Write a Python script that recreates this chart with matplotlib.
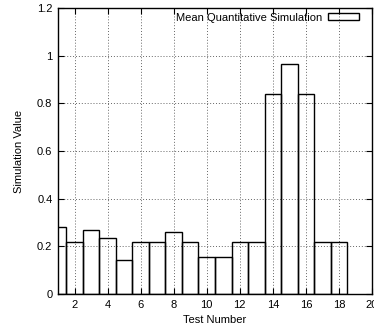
import matplotlib
matplotlib.use("Agg")
import matplotlib.pyplot as plt
import numpy as np

plt.rcParams['font.family'] = ['Liberation Sans', 'DejaVu Sans']

tests = list(range(1, 19))
values = [0.28, 0.218, 0.27, 0.236, 0.142, 0.218, 0.218, 0.261, 0.218,
          0.154, 0.154, 0.218, 0.218, 0.84, 0.967, 0.84, 0.218, 0.218]
xticks = [2, 4, 6, 8, 10, 12, 14, 16, 18, 20]
yticks = [0, 0.2, 0.4, 0.6, 0.8, 1.0, 1.2]
ytick_labels = ['0', '0.2', '0.4', '0.6', '0.8', '1', '1.2']

fig = plt.figure(figsize=(3.74, 3.32), dpi=100)
ax = fig.add_axes([58/374, 1 - 294/332, (372 - 58)/374, (294 - 8)/332])

ax.bar(tests, values, width=1.0, facecolor='none', edgecolor='black',
       linewidth=1.0, label='Mean Quantitative Simulation', zorder=3)

ax.set_xlim(1, 20)
ax.set_ylim(0, 1.2)
ax.set_xticks(xticks)
ax.set_yticks(yticks)
ax.set_yticklabels(ytick_labels)
ax.grid(True, linestyle=(0, (1, 2)), color='#666666', linewidth=0.7, zorder=0)
ax.tick_params(direction='in', top=True, right=True, labelsize=8, length=4,
               width=0.8, pad=4)
for s in ax.spines.values():
    s.set_linewidth(1.0)
ax.set_xlabel('Test Number', fontsize=8, labelpad=4)
ax.set_ylabel('Simulation Value', fontsize=8, labelpad=9)

leg = ax.legend(loc='upper right', fontsize=8, frameon=False, markerfirst=False,
                handlelength=2.8, handleheight=0.55, borderaxespad=0.2,
                handletextpad=0.5, bbox_to_anchor=(0.981, 1.007))
leg.set_zorder(5)

fig.savefig('out.png', dpi=100)
